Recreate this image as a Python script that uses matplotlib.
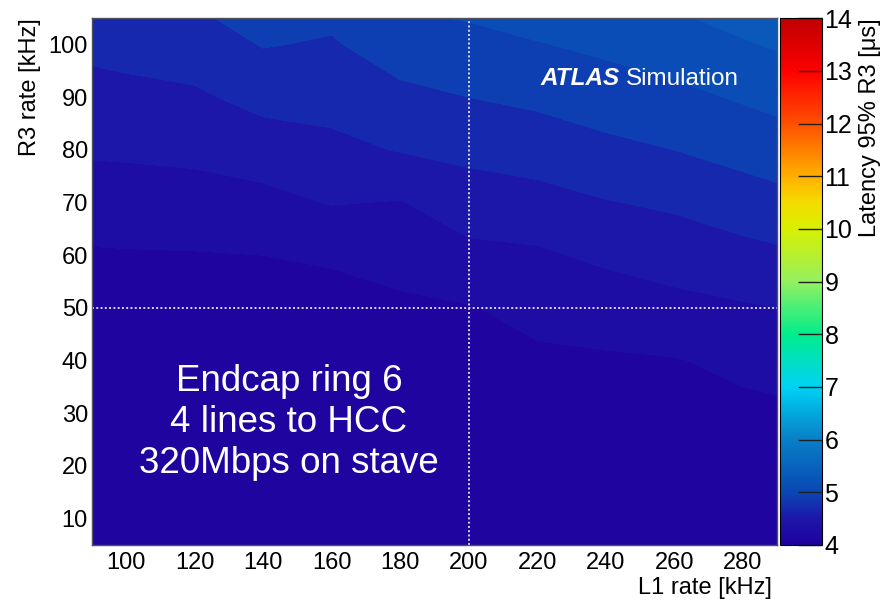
import numpy as np
import matplotlib
matplotlib.use("Agg")
import matplotlib.pyplot as plt
from matplotlib.colors import LinearSegmentedColormap, Normalize
from matplotlib.cm import ScalarMappable

plt.rcParams['font.family'] = ['Liberation Sans', 'DejaVu Sans']

# bin centres of the scan
l1_rate = [100, 120, 140, 160, 180, 200, 220, 240, 260, 280]   # kHz
r3_rate = [10, 20, 30, 40, 50, 60, 70, 80, 90, 100]            # kHz

# 95% R3 latency [us], one list per L1 column (R3 = 10 ... 100)
lat_l1_100 = [4.05, 4.08, 4.10, 4.13, 4.16, 4.19, 4.27, 4.44, 4.55, 4.66]
lat_l1_120 = [4.06, 4.08, 4.11, 4.14, 4.16, 4.19, 4.31, 4.45, 4.57, 4.70]
lat_l1_140 = [4.06, 4.09, 4.11, 4.14, 4.17, 4.20, 4.34, 4.50, 4.66, 4.81]
lat_l1_160 = [4.06, 4.09, 4.11, 4.14, 4.17, 4.21, 4.41, 4.55, 4.67, 4.78]
lat_l1_180 = [4.07, 4.09, 4.12, 4.15, 4.18, 4.24, 4.39, 4.61, 4.75, 4.90]
lat_l1_200 = [4.07, 4.10, 4.13, 4.16, 4.19, 4.35, 4.50, 4.65, 4.80, 4.94]
lat_l1_220 = [4.07, 4.10, 4.13, 4.17, 4.25, 4.37, 4.53, 4.69, 4.84, 4.99]
lat_l1_240 = [4.08, 4.11, 4.14, 4.18, 4.28, 4.44, 4.59, 4.75, 4.90, 5.04]
lat_l1_260 = [4.08, 4.11, 4.15, 4.19, 4.34, 4.49, 4.63, 4.80, 4.95, 5.10]
lat_l1_280 = [4.09, 4.12, 4.16, 4.24, 4.38, 4.54, 4.70, 4.87, 5.02, 5.18]

z_min, z_max = 4, 14
x_range = (90, 290)
y_range = (5, 105)

latency = np.array([lat_l1_100, lat_l1_120, lat_l1_140, lat_l1_160, lat_l1_180,
                    lat_l1_200, lat_l1_220, lat_l1_240, lat_l1_260, lat_l1_280]).T


def extend_half_bin(a, axis):
    # carry the surface half a bin past the outer centres (linear continuation)
    a = np.moveaxis(a, axis, 0)
    lo = 1.5 * a[0] - 0.5 * a[1]
    hi = 1.5 * a[-1] - 0.5 * a[-2]
    out = np.concatenate([lo[None], a, hi[None]], axis=0)
    return np.moveaxis(out, 0, axis)


xs = np.concatenate([[x_range[0]], l1_rate, [x_range[1]]])
ys = np.concatenate([[y_range[0]], r3_rate, [y_range[1]]])
zs = extend_half_bin(extend_half_bin(latency, 0), 1)

palette = LinearSegmentedColormap.from_list('root_rainbow', [
    (0.00, '#1f009e'),
    (0.05, '#1c18aa'),
    (0.10, '#0a48b4'),
    (0.20, '#0880c8'),
    (0.30, '#00d2f4'),
    (0.40, '#00ee8c'),
    (0.50, '#94f060'),
    (0.60, '#d8f000'),
    (0.65, '#f4dc00'),
    (0.70, '#ffb000'),
    (0.75, '#ff8000'),
    (0.80, '#ff5000'),
    (0.90, '#ff0000'),
    (1.00, '#c00000'),
])
norm = Normalize(vmin=z_min, vmax=z_max)

fig = plt.figure(figsize=(8.85, 6.0), dpi=100)
ax = fig.add_axes([0.104, 0.0917, 0.774, 0.878])
cax = fig.add_axes([0.881, 0.0917, 0.0475, 0.878])

levels = np.linspace(z_min, z_max, 51)
ax.contourf(xs, ys, zs, levels=levels, cmap=palette, norm=norm, extend='min')

ax.axvline(200, color='#d8d8f0', lw=1.4, ls=(0, (1, 1.2)))
ax.axhline(50, color='#d8d8f0', lw=1.4, ls=(0, (1, 1.2)))

ax.set_xlim(*x_range)
ax.set_ylim(*y_range)
ax.set_xticks(range(100, 281, 20))
ax.set_yticks(range(10, 101, 10))
ax.tick_params(length=0, labelsize=17, pad=5)
ax.tick_params(axis='y', pad=3)
for sp in ax.spines.values():
    sp.set_color('#505060')
    sp.set_linewidth(1.0)

ax.text(0.993, -0.081, 'L1 rate [kHz]', transform=ax.transAxes, ha='right', va='center', fontsize=17)
fig.text(0.034, 0.97, 'R3 rate [kHz]', rotation=90, ha='center', va='top', fontsize=17)

ax.text(0.655, 0.885, 'ATLAS', transform=ax.transAxes, color='white',
        fontsize=17.5, fontweight='bold', fontstyle='italic', ha='left', va='center')
ax.text(0.779, 0.885, 'Simulation', transform=ax.transAxes, color='white',
        fontsize=17.5, ha='left', va='center')

ax.text(147.5, 28.3, 'Endcap ring 6\n4 lines to HCC\n320Mbps on stave',
        color='white', fontsize=26.5, ha='center', va='center', linespacing=1.22)

cb = fig.colorbar(ScalarMappable(norm=norm, cmap=palette), cax=cax)
cb.set_ticks(range(z_min, z_max + 1))
cb.outline.set_linewidth(0.8)
cax.tick_params(direction='in', length=17, width=1.0, labelsize=18, pad=2, color='#202020')
cax.minorticks_off()
fig.text(0.983, 0.97, 'Latency 95% R3 [μs]', rotation=90, ha='center', va='top', fontsize=17)

fig.savefig('out.png', dpi=100)
